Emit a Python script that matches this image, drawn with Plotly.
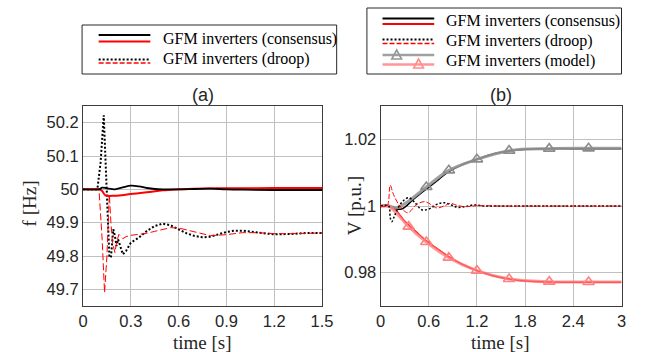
import plotly.graph_objects as go

# ---------------- data: frequency (a) ----------------
t_fc_k = [0, 0.10, 0.12, 0.15, 0.20, 0.25, 0.30, 0.35, 0.40, 0.45, 0.50, 0.60, 0.70, 0.80, 0.90, 1.00, 1.20, 1.50]
f_fc_k = [50, 50.0, 50.005, 50.003, 50.0, 50.006, 50.011, 50.009, 50.004, 50.001, 50.0, 50.0, 50.001, 50.002, 50.0, 49.999, 49.998, 49.998]

t_fc_r = [0, 0.10, 0.12, 0.14, 0.20, 0.30, 0.40, 0.50, 0.60, 0.70, 0.85, 1.00, 1.20, 1.50]
f_fc_r = [50, 50.0, 49.995, 49.982, 49.981, 49.986, 49.991, 49.997, 50.0, 50.002, 50.003, 50.003, 50.004, 50.004]

t_fd_k = [0, 0.09, 0.11, 0.125, 0.13, 0.14, 0.155, 0.165, 0.175, 0.19, 0.20, 0.21, 0.22, 0.235, 0.25, 0.27, 0.30, 0.35,
          0.40, 0.45, 0.50, 0.55, 0.60, 0.65, 0.70, 0.75, 0.80, 0.85, 0.90, 0.95, 1.00, 1.10, 1.20, 1.30, 1.40, 1.50]
f_fd_k = [50, 50.0, 50.08, 50.21, 50.222, 50.10, 49.88, 49.80, 49.795, 49.88, 49.86, 49.83, 49.85, 49.83, 49.805, 49.815, 49.84, 49.855,
          49.875, 49.89, 49.897, 49.892, 49.88, 49.868, 49.86, 49.856, 49.858, 49.865, 49.872, 49.876, 49.876, 49.87, 49.865, 49.866, 49.869, 49.869]

t_fd_r = [0, 0.10, 0.12, 0.135, 0.15, 0.165, 0.175, 0.185, 0.20, 0.21, 0.225, 0.24, 0.25, 0.27, 0.30, 0.35, 0.40, 0.45,
          0.50, 0.55, 0.60, 0.70, 0.80, 0.90, 1.00, 1.10, 1.20, 1.30, 1.50]
f_fd_r = [50, 50.0, 49.85, 49.69, 49.80, 49.985, 49.90, 49.84, 49.81, 49.84, 49.865, 49.855, 49.852, 49.858, 49.862, 49.865, 49.868, 49.874,
          49.88, 49.885, 49.884, 49.872, 49.861, 49.864, 49.87, 49.87, 49.867, 49.867, 49.869]

# ---------------- data: voltage (b) ----------------
t_vc = [0, 0.10, 0.20, 0.25, 0.30, 0.40, 0.50, 0.60, 0.70, 0.85, 1.00, 1.20, 1.40, 1.60, 1.80, 2.10, 2.50, 3.00]
v_vc_k = [1.0, 1.0, 0.9992, 0.999, 0.9996, 1.0018, 1.0038, 1.0056, 1.0075, 1.0103, 1.0122, 1.0140, 1.0156, 1.0165, 1.0170, 1.0172, 1.0172, 1.0172]
v_vc_r = [1.0, 1.0, 0.9985, 0.997, 0.9955, 0.9932, 0.9910, 0.9890, 0.9873, 0.9848, 0.9827, 0.9806, 0.9791, 0.9781, 0.9775, 0.9772, 0.9771, 0.9771]

t_vm = [0, 0.10, 0.20, 0.35, 0.57, 0.85, 1.20, 1.60, 2.10, 2.59, 3.00]
v_vm_k = [1.0, 1.0, 0.9995, 1.0015, 1.0057, 1.0107, 1.0140, 1.0166, 1.0172, 1.0173, 1.0173]
v_vm_r = [1.0, 1.0, 0.9978, 0.9938, 0.9892, 0.9845, 0.9806, 0.9781, 0.9773, 0.9772, 0.9772]
mk_idx_k = [4, 5, 6, 7, 8, 9]
mk_idx_r = [3, 4, 5, 6, 7, 8, 9]

t_vd_k = [0, 0.10, 0.12, 0.14, 0.17, 0.22, 0.28, 0.35, 0.42, 0.52, 0.62, 0.70, 0.79, 0.88, 0.96, 1.05, 1.15, 1.30, 1.60, 2.00, 3.00]
v_vd_k = [1.0, 1.0, 0.9965, 0.9953, 0.9968, 0.9995, 1.0015, 1.0025, 1.0012, 0.9988, 0.9993, 1.0005, 1.0010, 1.0003, 0.9996, 0.9998, 1.0003, 1.0, 1.0, 1.0, 1.0]

t_vd_r = [0, 0.08, 0.12, 0.16, 0.24, 0.34, 0.45, 0.55, 0.63, 0.70, 0.80, 0.87, 0.95, 1.05, 1.20, 1.50, 2.00, 3.00]
v_vd_r = [1.0, 1.0, 1.0062, 1.0035, 1.0, 0.998, 1.0005, 1.0013, 1.0004, 0.9994, 1.0001, 1.0008, 1.0002, 0.9998, 1.0001, 1.0, 1.0, 1.0]

legend_a = ["GFM inverters (consensus)", "GFM inverters (droop)"]
legend_b = ["GFM inverters (consensus)", "GFM inverters (droop)", "GFM inverters (model)"]

W, H = 653, 352
RED = "rgb(255,0,0)"
GRAY_M = "rgba(150,150,150,0.9)"
PINK_M = "rgba(255,120,120,0.75)"

fig = go.Figure()

# (a)
fig.add_trace(go.Scatter(x=t_fd_k, y=f_fd_k, mode="lines", line=dict(color="black", width=2, dash="2px,2px"), xaxis="x", yaxis="y"))
fig.add_trace(go.Scatter(x=t_fd_r, y=f_fd_r, mode="lines", line=dict(color=RED, width=1, dash="7px,3px"), xaxis="x", yaxis="y"))
fig.add_trace(go.Scatter(x=t_fc_r, y=f_fc_r, mode="lines", line=dict(color=RED, width=2, shape="spline"), xaxis="x", yaxis="y"))
fig.add_trace(go.Scatter(x=t_fc_k, y=f_fc_k, mode="lines", line=dict(color="black", width=1.8, shape="spline"), xaxis="x", yaxis="y"))

# (b)
fig.add_trace(go.Scatter(x=t_vc, y=v_vc_k, mode="lines", line=dict(color="black", width=1.5, shape="spline"), xaxis="x2", yaxis="y2"))
fig.add_trace(go.Scatter(x=t_vc, y=v_vc_r, mode="lines", line=dict(color=RED, width=1.5, shape="spline"), xaxis="x2", yaxis="y2"))
fig.add_trace(go.Scatter(x=t_vm, y=v_vm_k, mode="lines", line=dict(color=GRAY_M, width=3, shape="spline"), xaxis="x2", yaxis="y2"))
fig.add_trace(go.Scatter(x=t_vm, y=v_vm_r, mode="lines", line=dict(color=PINK_M, width=3, shape="spline"), xaxis="x2", yaxis="y2"))
fig.add_trace(go.Scatter(x=[t_vm[i] for i in mk_idx_k], y=[v_vm_k[i] for i in mk_idx_k], mode="markers",
                         marker=dict(symbol="triangle-up-open", size=10, color="rgb(140,140,140)", line=dict(width=1.6)), xaxis="x2", yaxis="y2"))
fig.add_trace(go.Scatter(x=[t_vm[i] for i in mk_idx_r], y=[v_vm_r[i] for i in mk_idx_r], mode="markers",
                         marker=dict(symbol="triangle-up-open", size=10, color="rgb(255,130,130)", line=dict(width=1.6)), xaxis="x2", yaxis="y2"))
fig.add_trace(go.Scatter(x=t_vd_k, y=v_vd_k, mode="lines", line=dict(color="black", width=1.5, dash="2px,2px", shape="spline"), xaxis="x2", yaxis="y2"))
fig.add_trace(go.Scatter(x=t_vd_r, y=v_vd_r, mode="lines", line=dict(color=RED, width=1, dash="5px,2px", shape="spline"), xaxis="x2", yaxis="y2"))

def px(x):
    return x / W

def py(y):
    return 1 - y / H

ydom = [py(306), py(106)]
axis_common = dict(showgrid=True, gridcolor="rgb(192,192,192)", gridwidth=1, zeroline=False,
                   showline=True, linecolor="rgb(60,60,60)", linewidth=1, mirror=True, ticks="",
                   tickfont=dict(family="Liberation Sans, Arial, sans-serif", size=16.5, color="rgb(38,38,38)"))

fig.update_layout(
    width=W, height=H, margin=dict(l=0, r=0, t=0, b=0),
    paper_bgcolor="white", plot_bgcolor="white", showlegend=False,
    xaxis=dict(domain=[px(80), px(325)], range=[0, 1.5], tickvals=[0, 0.3, 0.6, 0.9, 1.2, 1.5],
               ticktext=["0", "0.3", "0.6", "0.9", "1.2", "1.5"], anchor="y", **axis_common),
    yaxis=dict(domain=ydom, range=[49.65, 50.25], tickvals=[49.7, 49.8, 49.9, 50, 50.1, 50.2],
               ticktext=["49.7", "49.8", "49.9", "50", "50.1", "50.2"], anchor="x", **axis_common),
    xaxis2=dict(domain=[px(385), px(632)], range=[0, 3], tickvals=[0, 0.6, 1.2, 1.8, 2.4, 3],
                ticktext=["0", "0.6", "1.2", "1.8", "2.4", "3"], anchor="y2", **axis_common),
    yaxis2=dict(domain=ydom, range=[0.97, 1.03], tickvals=[0.98, 1.0, 1.02],
                ticktext=["0.98", "1", "1.02"], anchor="x2", **axis_common),
)

serif = "Liberation Serif, Times New Roman, serif"
sans = "Liberation Sans, Arial, sans-serif"
ann = []
def text(x, y, s, size=16, family=serif, xanchor="center", angle=0, color="black"):
    ann.append(dict(x=px(x), y=py(y), xref="paper", yref="paper", text=s, showarrow=False,
                    xanchor=xanchor, yanchor="middle", textangle=angle,
                    font=dict(family=family, size=size, color=color)))

text(202.5, 95, "(a)", size=18, family=sans, color="rgb(38,38,38)")
text(508, 95, "(b)", size=18, family=sans, color="rgb(38,38,38)")
text(202.5, 342, "time [s]", size=19, color="rgb(38,38,38)")
text(508, 342, "time [s]", size=19, color="rgb(38,38,38)")
text(25, 203, "f [Hz]", size=19, angle=-90, color="rgb(38,38,38)")
text(358, 206, "V [p.u.]", size=19, angle=-90, color="rgb(38,38,38)")

shapes = []
def box(x0, y0, x1, y1):
    shapes.append(dict(type="rect", xref="paper", yref="paper", x0=px(x0), y0=py(y1), x1=px(x1), y1=py(y0),
                       line=dict(color="rgb(40,40,40)", width=1), fillcolor="white", layer="above"))
def seg(x0, x1, y, color, width, dash="solid"):
    shapes.append(dict(type="line", xref="paper", yref="paper", x0=px(x0), x1=px(x1), y0=py(y), y1=py(y),
                       line=dict(color=color, width=width, dash=dash), layer="above"))
def tri(xc, yc, color):
    p = f"M {px(xc-5)},{py(yc+4)} L {px(xc+5)},{py(yc+4)} L {px(xc)},{py(yc-5)} Z"
    shapes.append(dict(type="path", xref="paper", yref="paper", path=p,
                       line=dict(color=color, width=1.6), layer="above"))

# legend (a)
box(79, 25, 340, 74)
seg(96, 149, 35, "black", 2.2)
seg(96, 149, 41.5, RED, 2.2)
seg(96, 149, 59.5, "black", 2.2, "2px,2px")
seg(96, 149, 63, RED, 1.6, "5px,2px")
text(160, 38.5, legend_a[0], xanchor="left")
text(160, 58.5, legend_a[1], xanchor="left")

# legend (b)
box(371, 8, 632, 74)
seg(387, 440, 18.5, "black", 2.2)
seg(387, 440, 24, RED, 2.2)
seg(387, 440, 39.5, "black", 2.2, "2px,2px")
seg(387, 440, 43.5, RED, 1.6, "5px,2px")
seg(387, 440, 55, "rgb(160,160,160)", 2.5)
seg(387, 440, 64.5, "rgb(255,150,150)", 2.5)
tri(401.5, 55, "rgb(150,150,150)")
tri(424, 64, "rgb(255,140,140)")
text(450.5, 21, legend_b[0], xanchor="left")
text(450.5, 41, legend_b[1], xanchor="left")
text(450.5, 61, legend_b[2], xanchor="left")

fig.update_layout(annotations=ann, shapes=shapes)
fig.write_html("out.html")
